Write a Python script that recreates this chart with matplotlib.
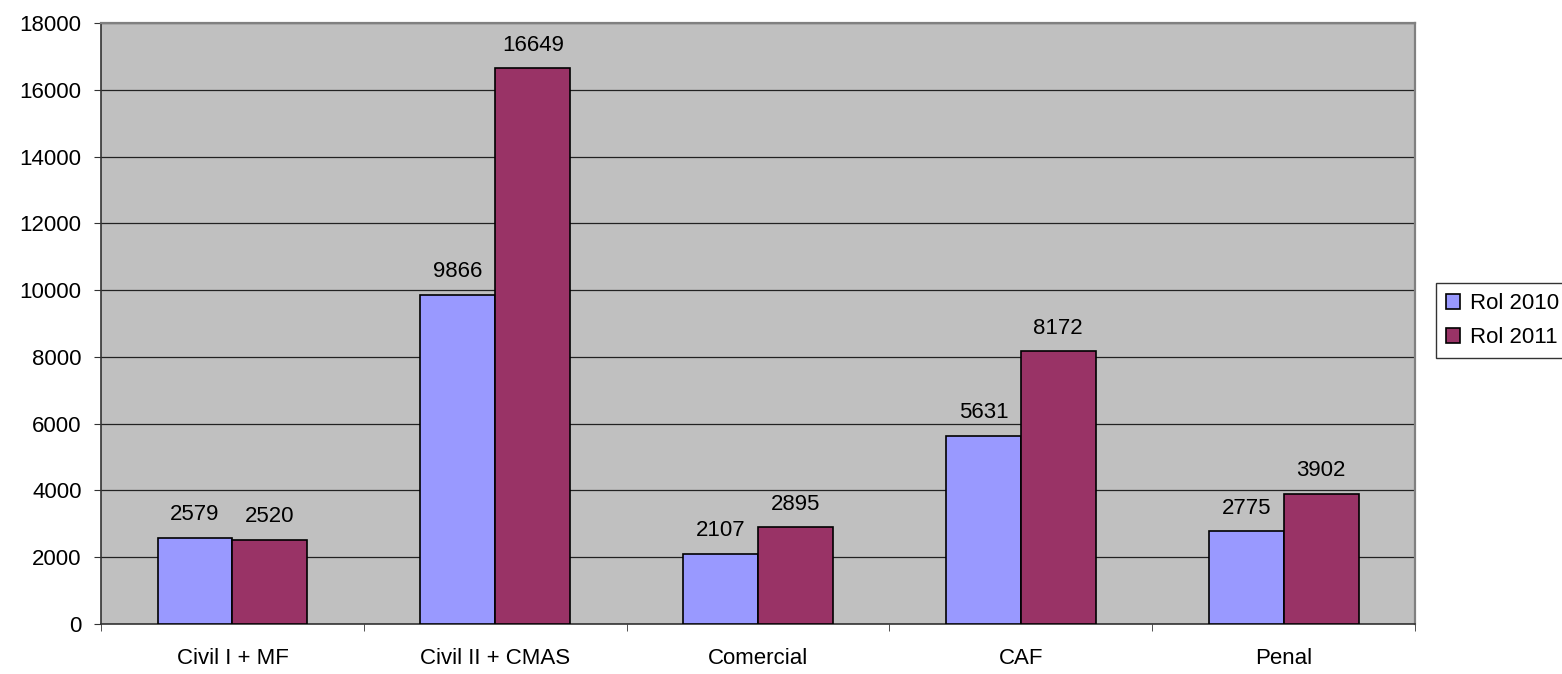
import matplotlib.pyplot as plt
import numpy as np

plt.rcParams['font.family'] = ['Liberation Sans', 'DejaVu Sans']

categories = ["Civil I + MF", "Civil II + CMAS", "Comercial", "CAF", "Penal"]
rol_2010 = [2579, 9866, 2107, 5631, 2775]
rol_2011 = [2520, 16649, 2895, 8172, 3902]
series_names = ["Rol 2010", "Rol 2011"]
colors = ["#9999FF", "#993366"]
fs = 16

fig = plt.figure(figsize=(15.62, 6.74), dpi=100)
ax = fig.add_axes([0.0647, 0.0742, 0.8412, 0.8917])
ax.set_facecolor("#C0C0C0")

x = np.arange(len(categories))
w = 0.285
b1 = ax.bar(x - w / 2, rol_2010, w, color=colors[0], edgecolor="black", linewidth=1.2, label=series_names[0], zorder=3)
b2 = ax.bar(x + w / 2, rol_2011, w, color=colors[1], edgecolor="black", linewidth=1.2, label=series_names[1], zorder=3)

for bars, vals in [(b1, rol_2010), (b2, rol_2011)]:
    for bar, v in zip(bars, vals):
        ax.annotate(str(v), (bar.get_x() + bar.get_width() / 2, v),
                    xytext=(0, 9), textcoords="offset points",
                    ha="center", va="bottom", fontsize=fs)

ax.set_xlim(-0.5, len(categories) - 0.5)
ax.set_ylim(0, 18000)
ax.set_yticks(np.arange(0, 18001, 2000))
ax.yaxis.grid(True, color="#222222", linewidth=0.9, zorder=0)
ax.set_axisbelow(True)

ax.set_xticks(x)
ax.set_xticklabels(categories, fontsize=fs)
ax.tick_params(axis="x", length=0, pad=17)
ax.set_xticks(np.arange(-0.5, len(categories)), minor=True)
ax.tick_params(axis="x", which="minor", length=5, color="#333333")
ax.tick_params(axis="y", labelsize=fs, length=5, color="#333333", pad=9)

for side in ["top", "right"]:
    ax.spines[side].set_color("#808080")
    ax.spines[side].set_linewidth(1.6)
for side in ["left", "bottom"]:
    ax.spines[side].set_color("#333333")
    ax.spines[side].set_linewidth(1.2)

leg = fig.legend(loc="upper left", bbox_to_anchor=(1436 / 1562, 1 - 283 / 674),
                 fontsize=fs, frameon=True, fancybox=False, handlelength=0.65,
                 handleheight=0.65, handletextpad=0.45, borderpad=0.45,
                 borderaxespad=0, labelspacing=0.6)
leg.get_frame().set_edgecolor("black")
leg.get_frame().set_linewidth(1.0)

fig.savefig("out.png", dpi=100)
